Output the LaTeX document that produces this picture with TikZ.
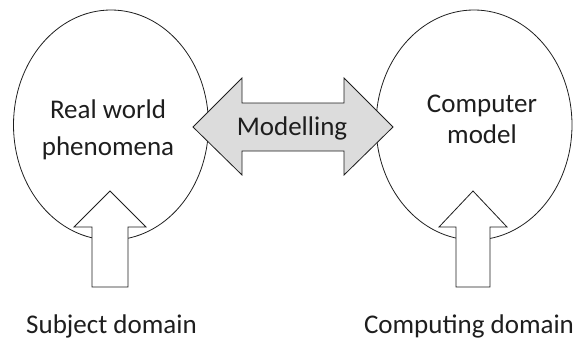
\documentclass[tikz,border=0pt]{standalone}
\usepackage{fontspec}
\setmainfont{Carlito}
\usetikzlibrary{shapes.geometric}
\definecolor{arrowgray}{RGB}{220,220,220}
\definecolor{inkcol}{RGB}{30,30,30}
\tikzset{
  domainoval/.style={ellipse, draw=inkcol, line width=0.8pt, inner sep=0pt},
  blockarrow/.style={draw=inkcol, line width=0.8pt, line join=miter},
  lbl/.style={font=\fontsize{27}{34}\selectfont, text=inkcol, inner sep=0pt, align=center}
}
\begin{document}
\begin{tikzpicture}[x=1pt, y=-1pt]
\useasboundingbox (0,0) rectangle (578,343);
% the two domains
\node[domainoval, minimum width=195pt, minimum height=230pt] (real) at (111,125) {};
\node[domainoval, minimum width=196pt, minimum height=230pt] (comp) at (474,125) {};
% double block arrow between the domains
\coordinate (mL) at (193,127);
\coordinate (mR) at (393,127);
\draw[blockarrow, fill=arrowgray]
  (mL) -- (242,78) -- (242,103) -- (344,103) -- (344,78) -- (mR)
  -- (344,175) -- (344,151) -- (242,151) -- (242,175) -- cycle;
% upward block arrows into each domain
\coordinate (sTip) at (110,191);
\coordinate (cTip) at (473,191);
\draw[blockarrow, fill=white]
  (sTip) -- (146,227) -- (128,227) -- (128,287) -- (92,287) -- (92,227) -- (74,227) -- cycle;
\draw[blockarrow, fill=white]
  (cTip) -- (507,227) -- (490,227) -- (490,287) -- (456,287) -- (456,227) -- (439,227) -- cycle;
% labels (base anchor sits on the last line)
\node[lbl, anchor=base] (realtxt) at (108,155) {Real world\\[3pt]phenomena};
\node[lbl, anchor=base] (comptxt) at (482,143) {Computer\\[-3pt]model};
\node[lbl, anchor=base] (modtxt) at (292,135) {Modelling};
\node[lbl, anchor=base] (subj) at (111.5,333) {Subject domain};
\node[lbl, anchor=base] (cdom) at (469,333) {Computing domain};
\end{tikzpicture}
\end{document}
